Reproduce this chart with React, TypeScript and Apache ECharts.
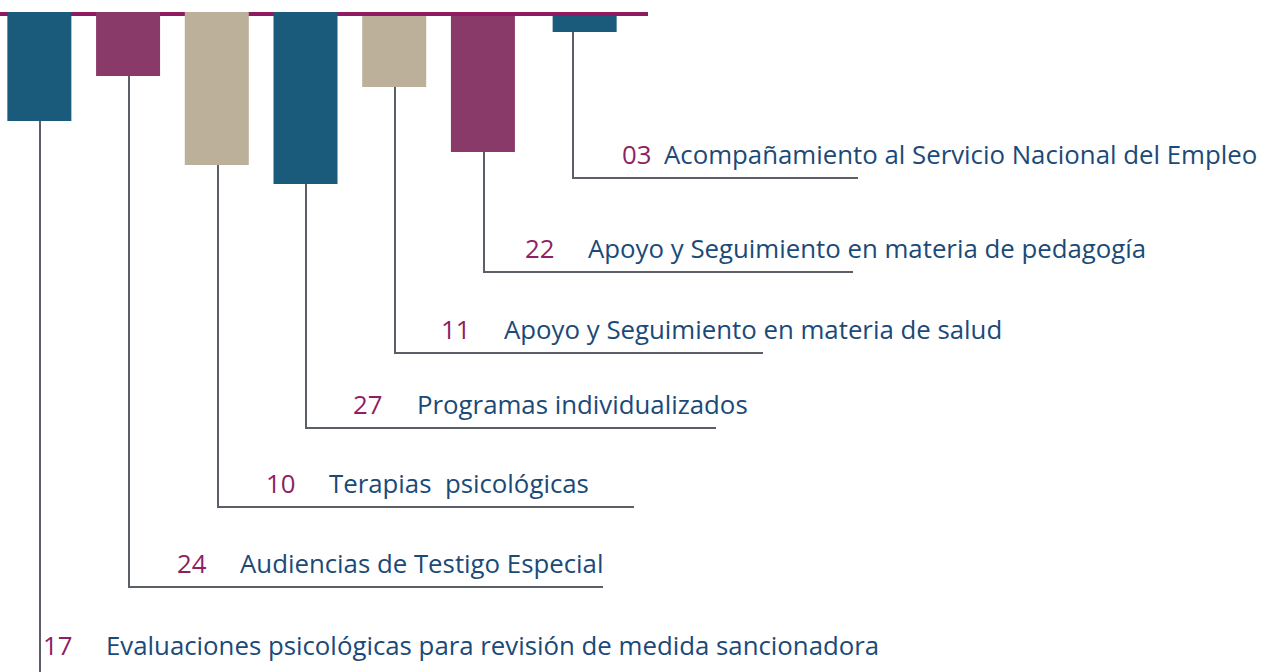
import React, { useEffect, useRef } from "react";
import * as echarts from "echarts";

// ---- data ----
const categories = [
  "Evaluaciones psicológicas para revisión de medida sancionadora",
  "Audiencias de Testigo Especial",
  "Terapias  psicológicas",
  "Programas individualizados",
  "Apoyo y Seguimiento en materia de salud",
  "Apoyo y Seguimiento en materia de pedagogía",
  "Acompañamiento al Servicio Nacional del Empleo",
];
const countLabels = ["17", "24", "10", "27", "11", "22", "03"];
// bar end (hanging from the top rule), in the chart's own units
const barLengths = [109, 64, 153, 172, 75, 140, 20];
// where each bar begins (some begin just under the rule)
const barStarts = [0, 0, 0, 0, 4, 4, 4];
// depth of each label row, in the same units
const leaderDepths = [661, 575, 495, 416, 341, 260, 166];

// ---- styling / layout ----
const barColors = ["#1A5A7B", "#8A3A69", "#BCB09B", "#1A5A7B", "#BCB09B", "#8A3A69", "#1A5A7B"];
const barShift = [0, 0, 0, 0, 0, 0, 13];
const leaderReach = [960, 474, 416, 410, 368, 369, 285];
const numberGap = [3, 48, 48, 47, 46, 41, 49];
const textGap = [63, 63, 63, 64, 63, 63, 42];
const textLift = [28, 24, 24, 24, 24, 24, 24];

const FONT = "'Open Sans', 'Noto Sans', sans-serif";
const FONT_SIZE = 25.8;
const SHIFT = 5;
const BAR_W = 64;

export default function App() {
  const ref = useRef<HTMLDivElement>(null);
  useEffect(() => {
    document.body.style.margin = "0";
    document.body.style.overflow = "hidden";
    if (!ref.current) return;
    const chart = echarts.init(ref.current, undefined, { renderer: "svg" });
    const option: any = {
      animation: false,
      backgroundColor: "#ffffff",
      grid: { left: 0, top: 12, width: 621, height: 660 },
      xAxis: { type: "category", data: categories, show: false },
      yAxis: { type: "value", inverse: true, min: 0, max: 660, show: false },
      graphic: [
        {
          type: "rect",
          z: 0,
          shape: { x: SHIFT, y: 12, width: 648, height: 4 },
          style: { fill: "#8E1A60" },
        },
      ],
      series: [
        {
          type: "custom",
          name: "bars",
          z: 3,
          data: categories.map((c, i) => [i, barStarts[i], barLengths[i]]),
          renderItem: (params: any, api: any) => {
            const i = api.value(0);
            const top = api.coord([i, api.value(1)]);
            const bottom = api.coord([i, api.value(2)]);
            const cx = top[0] + barShift[i];
            return {
              type: "rect",
              shape: { x: cx - BAR_W / 2, y: top[1], width: BAR_W, height: bottom[1] - top[1] },
              style: { fill: barColors[i] },
            };
          },
        },
        {
          type: "custom",
          name: "leaders",
          z: 2,
          data: categories.map((c, i) => [i, barLengths[i], leaderDepths[i]]),
          renderItem: (params: any, api: any) => {
            const i = api.value(0);
            const bottom = api.coord([i, api.value(1)]);
            const row = api.coord([i, api.value(2)]);
            const x = Math.round(bottom[0]) + 1;
            const ry = Math.round(row[1]);
            const nx = x + numberGap[i];
            const ty = ry - textLift[i];
            return {
              type: "group",
              children: [
                {
                  type: "polyline",
                  shape: {
                    points: [
                      [x, bottom[1]],
                      [x, ry],
                      [x + leaderReach[i], ry],
                    ],
                  },
                  style: { stroke: "#5B6068", lineWidth: 2, fill: null },
                },
                {
                  type: "text",
                  x: nx,
                  y: ty,
                  style: {
                    text: countLabels[i],
                    fill: "#8E1F63",
                    fontSize: FONT_SIZE,
                    fontFamily: FONT,
                    verticalAlign: "middle",
                    align: "left",
                  },
                },
                {
                  type: "text",
                  x: nx + textGap[i],
                  y: ty,
                  style: {
                    text: categories[i],
                    fill: "#1B4A78",
                    fontSize: FONT_SIZE,
                    fontFamily: FONT,
                    verticalAlign: "middle",
                    align: "left",
                  },
                },
              ],
            };
          },
        },
      ],
    };
    chart.setOption(option);
    return () => chart.dispose();
  }, []);
  return (
    <div
      ref={ref}
      style={{ width: 1265 + SHIFT, height: 672, marginLeft: -SHIFT }}
    />
  );
}
